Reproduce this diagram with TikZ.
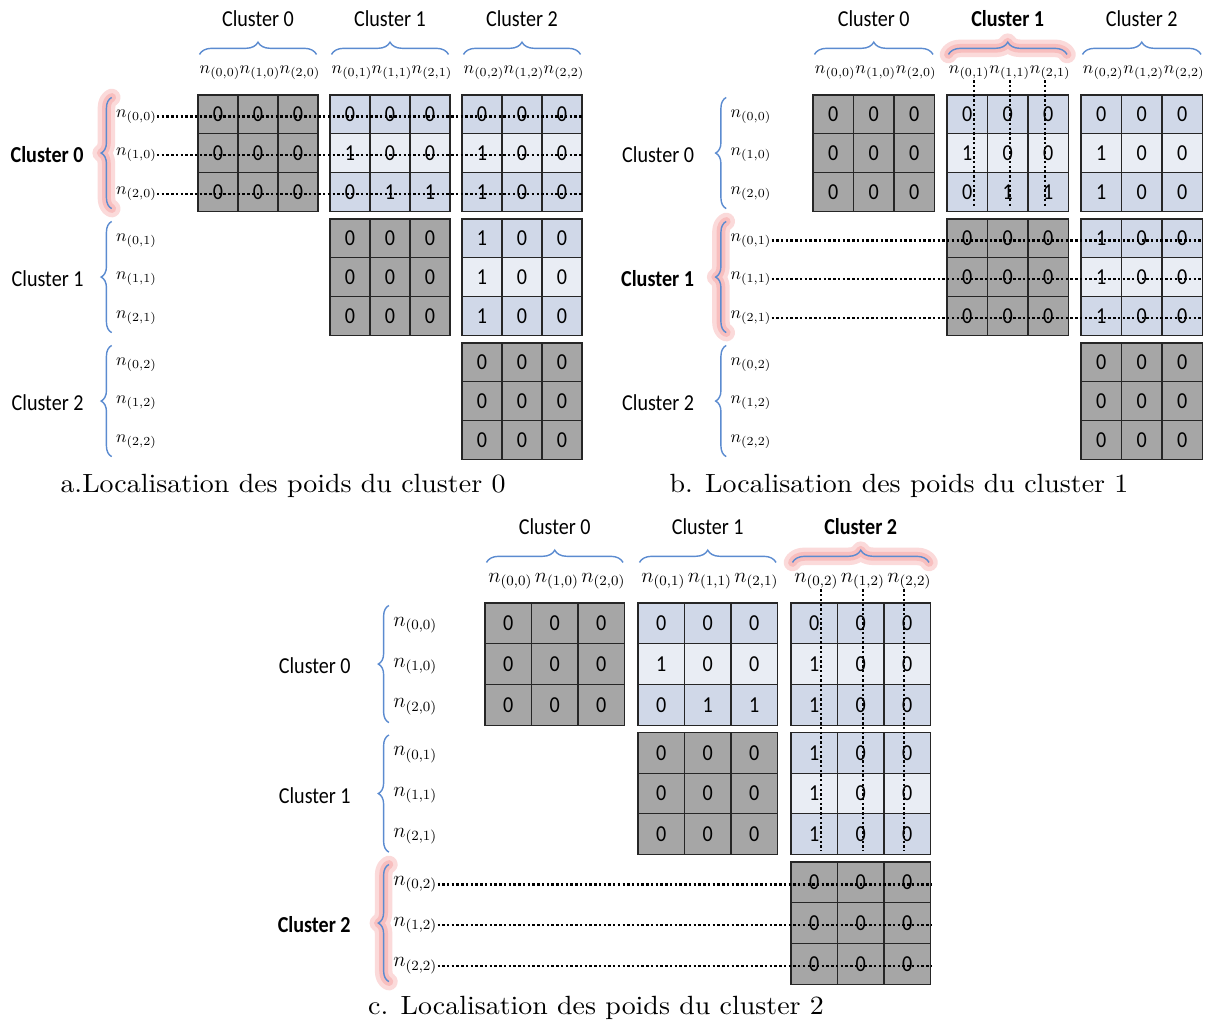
\documentclass[tikz,border=0pt]{standalone}
\usepackage{fontspec}
\newfontfamily\calibri[FakeStretch=0.88]{Carlito}
\newfontfamily\capfont{lmroman10-regular.otf}[FakeStretch=1.06]
\usetikzlibrary{calc, decorations.pathreplacing}

\definecolor{cellgrey}{HTML}{A6A6A6}
\definecolor{cellblue}{HTML}{D0D8E8}
\definecolor{cellpale}{HTML}{E9EDF4}
\definecolor{bracecol}{HTML}{5B8BD0}
\definecolor{glowcol}{HTML}{EE6A6A}

\begin{document}
\begin{tikzpicture}[
  x=0.02cm, y=-0.02cm,
  cell/.style={draw=black!85, line width=0.6pt, inner sep=0pt, font=\calibri\fontsize{13}{13}\selectfont},
  clus/.style={font=\calibri\fontsize{13}{15}\selectfont},
  nlab/.style={inner sep=0pt, font=\fontsize{#1}{12}\selectfont},
  capt/.style={font=\capfont\fontsize{15}{18}\selectfont},
  brc/.style={draw=bracecol, line width=0.8pt, decorate, decoration={brace, amplitude=#1}},
  glow/.style={draw=glowcol, line width=#1, opacity=0.25, line cap=round, line join=round},
  dots/.style={line width=1.4pt, dash pattern=on 1.4pt off 1.3pt}
]
\useasboundingbox (0,0) rectangle (1205,1027);

\foreach \p/\ox/\oy/\cw/\ch/\sx/\sy/\hl/\lx/\capx/\capy/\ctext in {
  a/198/95/40/38.7/132/124/0/-26/283/486/{a.Localisation des poids du cluster 0},
  b/813/95/40.5/38.7/134/124/1/-30/899/486/{b. Localisation des poids du cluster 1},
  c/485/603/46.5/40.7/153/129.5/2/-36/596/1008/{c. Localisation des poids du cluster 2}}
{
  \pgfmathsetmacro\fs{0.25*\cw}
  % weight blocks (upper triangle only)
  \foreach \br/\bc/\vals in {0/0/{0,0,0,0,0,0,0,0,0}, 0/1/{0,0,0,1,0,0,0,1,1},
      0/2/{0,0,0,1,0,0,1,0,0}, 1/1/{0,0,0,0,0,0,0,0,0},
      1/2/{1,0,0,1,0,0,1,0,0}, 2/2/{0,0,0,0,0,0,0,0,0}}
  {
    \foreach \v [count=\k from 0] in \vals {
      \pgfmathtruncatemacro\ii{div(\k,3)}
      \pgfmathtruncatemacro\jj{mod(\k,3)}
      \pgfmathtruncatemacro\gi{3*\br+\ii}
      \pgfmathtruncatemacro\gj{3*\bc+\jj}
      \ifnum\br=\bc \def\fc{cellgrey}\else\ifnum\ii=1 \def\fc{cellpale}\else\def\fc{cellblue}\fi\fi
      \node[cell, fill=\fc, minimum width=\cw*0.02cm, minimum height=\ch*0.02cm]
        (\p-\gi-\gj) at (\ox+\bc*\sx+\jj*\cw+\cw/2, \oy+\br*\sy+\ii*\ch+\ch/2) {\v};
    }
  }
  % neuron labels
  \foreach \gi in {0,...,8} {
    \pgfmathtruncatemacro\bc{div(\gi,3)}
    \pgfmathtruncatemacro\jj{mod(\gi,3)}
    \node[nlab=\fs] (\p-c\gi) at (\ox+\bc*\sx+\jj*\cw+\cw/2+2, \oy-22) {$n_{(\jj,\bc)}$};
    \node[nlab=\fs, anchor=east] (\p-r\gi) at (\ox-\cw-1, \oy+\bc*\sy+\jj*\ch+\ch/2+2) {$n_{(\jj,\bc)}$};
  }
  % clusters, braces, dotted guides
  \foreach \k in {0,1,2} {
    \pgfmathtruncatemacro\ka{3*\k}
    \pgfmathtruncatemacro\kb{3*\k+1}
    \pgfmathtruncatemacro\kc{3*\k+2}
    \def\fw{}\def\ft{}\def\tg{0}
    \ifnum\k=\hl\relax \def\fw{\bfseries}\ifnum\k>0 \def\ft{\bfseries}\def\tg{1}\fi\fi
    \node[clus] (\p-h\k) at (\ox+\k*\sx+1.5*\cw, \oy-76) {\ft Cluster \k};
    \node[clus, anchor=east] (\p-l\k) at ($(\p-r\kb.west)+(\lx,0)$) {\fw Cluster \k};
    \ifnum\tg=1
      \foreach \gw in {10pt,5pt}
        \draw[glow=\gw, decorate, decoration={brace, amplitude=7pt}]
          ($(\p-0-\ka.north west)+(2,-40)$) -- ($(\p-0-\kc.north east)+(-2,-40)$);
    \fi
    \ifnum\k=\hl\relax
      \foreach \gw in {10pt,5pt}
        \draw[glow=\gw, decorate, decoration={brace, amplitude=6pt}]
          ($(\p-r\kb.west |- \p-\kc-\kc.south)+(-4,-3)$) -- ($(\p-r\kb.west |- \p-\ka-\ka.north)+(-4,3)$);
    \fi
    \draw[brc=7pt] ($(\p-0-\ka.north west)+(2,-40)$) -- ($(\p-0-\kc.north east)+(-2,-40)$);
    \draw[brc=6pt] ($(\p-r\kb.west |- \p-\kc-\kc.south)+(-4,-3)$) -- ($(\p-r\kb.west |- \p-\ka-\ka.north)+(-4,3)$);
    \ifnum\k=\hl\relax
      \foreach \gi in {\ka,\kb,\kc}
        \draw[dots] (\p-r\gi.east) -- (\p-r\gi.east -| \p-\gi-8.east);
      \ifnum\k>0
        \pgfmathtruncatemacro\last{3*\k-1}
        \foreach \gj [count=\m from 0] in {\ka,\kb,\kc} {
          \pgfmathsetmacro\dx{5-5*\m}
          \draw[dots] ($(\p-c\gj.south)+(\dx,0)$) -- ($(\p-c\gj.south |- \p-\last-\gj.south)+(\dx,-4)$);
        }
      \fi
    \fi
  }
  \node[capt] (\p-cap) at (\capx,\capy) {\ctext};
}
\end{tikzpicture}
\end{document}
